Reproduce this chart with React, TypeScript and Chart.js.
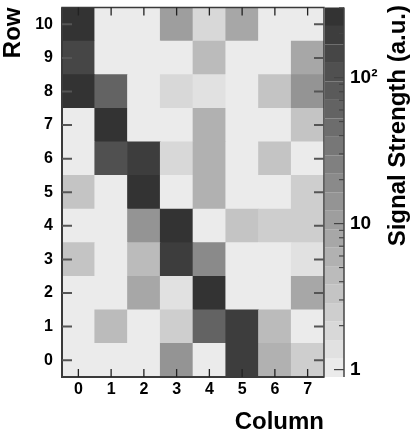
import React, { useEffect, useRef } from "react";
import { Chart, registerables } from "chart.js";

Chart.register(...registerables);

// ---- data ----
const columnLabels: number[] = [0, 1, 2, 3, 4, 5, 6, 7];
const rowLabels: number[] = [0, 1, 2, 3, 4, 5, 6, 7, 8, 9, 10];

// signal values, one array per row (row 0 first), one entry per column
const row0: number[] = [1, 1, 1, 14, 1, 195, 5.9, 2.5];
const row1: number[] = [1, 4.4, 1, 2.5, 61, 195, 4.4, 1];
const row2: number[] = [1, 1, 7.9, 1.4, 260, 1, 1, 7.9];
const row3: number[] = [3.3, 1, 4.4, 195, 19, 1, 1, 1.4];
const row4: number[] = [1, 1, 14, 260, 1, 3.3, 2.5, 2.5];
const row5: number[] = [3.3, 1, 230, 1, 5.9, 1, 1, 2.5];
const row6: number[] = [1, 105, 195, 1.85, 5.9, 1, 3.3, 1];
const row7: number[] = [1, 260, 1, 1, 5.9, 1, 1, 3.3];
const row8: number[] = [260, 61, 1, 1.85, 1.4, 1, 3.3, 14];
const row9: number[] = [146, 1, 1, 1, 4.4, 1, 1, 7.9];
const row10: number[] = [260, 1, 1, 10.6, 1.85, 7.9, 1, 1];
const signalByRow: number[][] = [row0, row1, row2, row3, row4, row5, row6, row7, row8, row9, row10];

const zMin = 0.89;
const zMax = 302;
const zMajorTicks: number[] = [1, 10, 100];
const zMinorTicks: number[] = [2, 3, 4, 5, 6, 7, 8, 9, 20, 30, 40, 50, 60, 70, 80, 90, 200, 300];
const nLevels = 20;

const FONT = "'Liberation Sans', Arial, Helvetica, sans-serif";

const logMin = Math.log10(zMin);
const logMax = Math.log10(zMax);
const logStep = (logMax - logMin) / nLevels;

function levelColor(i: number): string {
  const g = Math.round(235 - (i * (235 - 51)) / (nLevels - 1));
  return `rgb(${g},${g},${g})`;
}
function colorFor(v: number): string {
  let lvl = Math.floor((Math.log10(v) - logMin) / logStep);
  if (lvl < 0) lvl = 0;
  if (lvl > nLevels - 1) lvl = nLevels - 1;
  return levelColor(lvl);
}

function zeroPadding(s: any) {
  s.paddingTop = 0;
  s.paddingBottom = 0;
  s.paddingLeft = 0;
  s.paddingRight = 0;
}

const framePlugin = {
  id: "framePlugin",
  afterDatasetsDraw(chart: any) {
    const { ctx, chartArea } = chart;
    const { left, right, top, bottom } = chartArea;
    const xs = chart.scales.x;
    const ys = chart.scales.y;
    const zs = chart.scales.z;
    ctx.save();
    // colorbar
    const cx0 = zs.left + 1;
    const cx1 = zs.left + 20;
    for (let i = 0; i < nLevels; i++) {
      const yb = zs.getPixelForValue(Math.pow(10, logMin + i * logStep));
      const yt = zs.getPixelForValue(Math.pow(10, logMin + (i + 1) * logStep));
      ctx.fillStyle = levelColor(i);
      ctx.fillRect(cx0, yt, cx1 - cx0, yb - yt);
    }
    ctx.strokeStyle = "#444";
    ctx.lineWidth = 1.5;
    ctx.beginPath();
    ctx.moveTo(cx1, top);
    ctx.lineTo(cx1, bottom);
    ctx.stroke();
    ctx.lineWidth = 1.2;
    zMajorTicks.forEach((v) => {
      const p = zs.getPixelForValue(v);
      ctx.beginPath();
      ctx.moveTo(cx1, p);
      ctx.lineTo(cx1 - 10, p);
      ctx.stroke();
    });
    zMinorTicks.forEach((v) => {
      const p = zs.getPixelForValue(v);
      ctx.beginPath();
      ctx.moveTo(cx1, p);
      ctx.lineTo(cx1 - 5, p);
      ctx.stroke();
    });

    // frame
    ctx.strokeStyle = "#3a3a3a";
    ctx.lineWidth = 1.5;
    ctx.strokeRect(left, top, right - left, bottom - top);
    ctx.lineWidth = 2;
    ctx.beginPath();
    ctx.moveTo(left, top);
    ctx.lineTo(left, bottom);
    ctx.lineTo(right, bottom);
    ctx.stroke();

    // x ticks
    ctx.strokeStyle = "#222";
    ctx.lineWidth = 1.3;
    columnLabels.forEach((c, idx) => {
      const p = xs.getPixelForValue(idx);
      ctx.beginPath();
      ctx.moveTo(p, bottom);
      ctx.lineTo(p, bottom - 8);
      ctx.moveTo(p, top);
      ctx.lineTo(p, top + 8);
      ctx.stroke();
    });
    // y ticks
    ctx.strokeStyle = "#555";
    ctx.lineWidth = 2;
    rowLabels.forEach((r) => {
      const p = ys.getPixelForValue(r);
      ctx.beginPath();
      ctx.moveTo(left, p);
      ctx.lineTo(left + 10, p);
      ctx.moveTo(right, p);
      ctx.lineTo(right - 10, p);
      ctx.stroke();
    });

    // colorbar title
    ctx.fillStyle = "#000";
    ctx.font = `bold 24px ${FONT}`;
    ctx.textAlign = "right";
    ctx.textBaseline = "middle";
    ctx.translate(398, 5);
    ctx.rotate(-Math.PI / 2);
    ctx.fillText("Signal Strength (a.u.)", 0, 0);
    ctx.restore();
  },
};

export default function App() {
  const ref = useRef<HTMLCanvasElement | null>(null);

  useEffect(() => {
    if (!ref.current) return;
    const datasets = rowLabels.map((r, ri) => ({
      label: `Row ${r}`,
      data: columnLabels.map(() => [r - 0.5, r + 0.5]),
      backgroundColor: signalByRow[ri].map(colorFor),
      borderWidth: 0,
      categoryPercentage: 1,
      barPercentage: 1,
      grouped: false,
    }));
    const chart = new Chart(ref.current, {
      type: "bar",
      data: { labels: columnLabels.map(String), datasets: datasets as any },
      plugins: [framePlugin],
      options: {
        animation: false,
        responsive: false,
        devicePixelRatio: 1,
        layout: { padding: { top: 7.5, right: 0, bottom: 0, left: 0 } },
        plugins: { legend: { display: false }, tooltip: { enabled: false } },
        scales: {
          x: {
            type: "category",
            offset: true,
            grid: { display: false, drawTicks: false },
            border: { display: false },
            ticks: { color: "#000", font: { family: FONT, weight: "bold", size: 16 }, padding: 3 },
            title: {
              display: true,
              text: "Column",
              align: "end",
              color: "#000",
              font: { family: FONT, weight: "bold", size: 24 },
              padding: { top: 0, bottom: -4 },
            },
            afterFit: (s: any) => {
              s.height = 56;
              zeroPadding(s);
            },
          },
          y: {
            type: "linear",
            min: -0.5,
            max: 10.5,
            grid: { display: false, drawTicks: false },
            border: { display: false },
            afterBuildTicks: (s: any) => {
              s.ticks = rowLabels.map((v) => ({ value: v }));
            },
            ticks: { color: "#000", font: { family: FONT, weight: "bold", size: 16 }, padding: 9 },
            title: {
              display: true,
              text: "Row",
              align: "end",
              color: "#000",
              font: { family: FONT, weight: "bold", size: 24 },
              padding: { top: -1, bottom: 0 },
            },
            afterFit: (s: any) => {
              s.width = 62;
              zeroPadding(s);
            },
          },
          z: {
            type: "logarithmic",
            position: "right",
            min: zMin,
            max: zMax,
            grid: { display: false, drawTicks: false },
            border: { display: false },
            afterBuildTicks: (s: any) => {
              s.ticks = zMajorTicks.map((v) => ({ value: v }));
            },
            ticks: {
              color: "#000",
              font: { family: FONT, weight: "bold", size: 19 },
              padding: 26,
              callback: (v: any) => (Number(v) === 100 ? "10²" : String(v)),
            },
            afterFit: (s: any) => {
              s.width = 91;
              zeroPadding(s);
            },
          },
        },
      } as any,
    });
    return () => chart.destroy();
  }, []);

  return (
    <div style={{ position: "fixed", left: 0, top: 0, width: 415, height: 433, background: "#fff" }}>
      <canvas ref={ref} width={415} height={433} style={{ display: "block" }} />
    </div>
  );
}
